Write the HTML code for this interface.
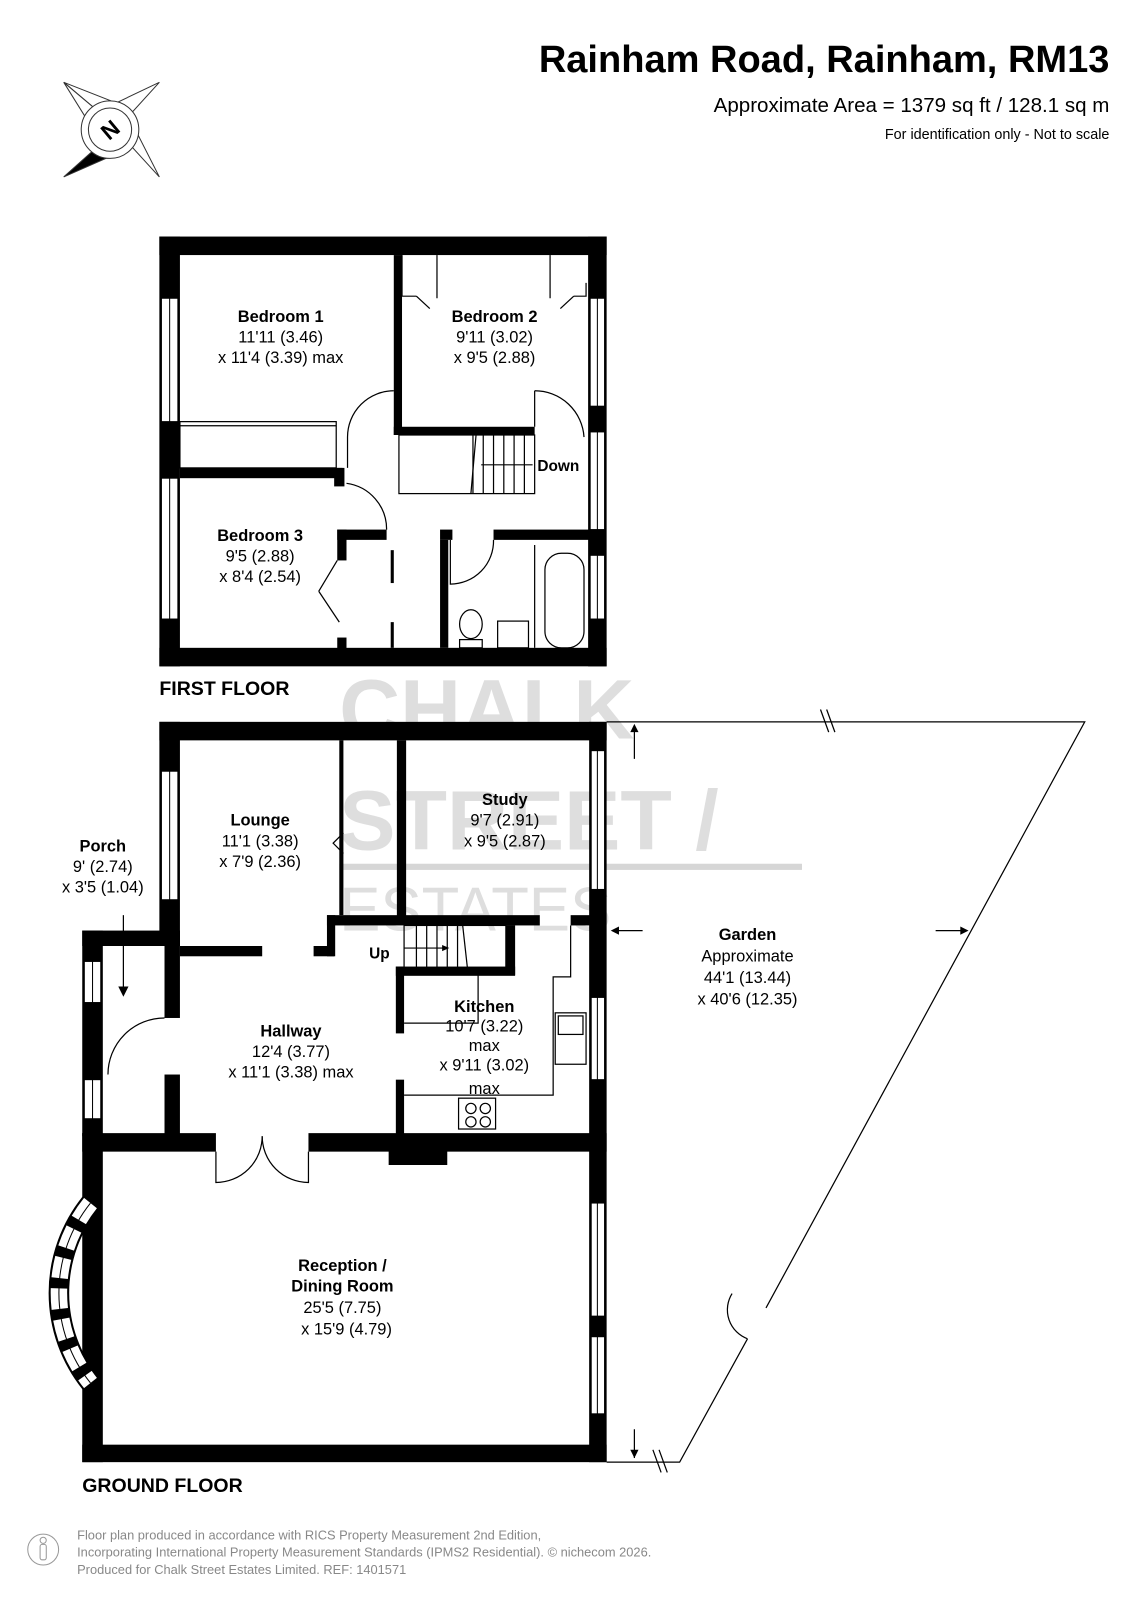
<!DOCTYPE html>
<html><head><meta charset="utf-8"><style>
html,body{margin:0;padding:0;background:#fff;}
svg{display:block;}
text{font-family:"Liberation Sans",Arial,sans-serif;}
</style></head><body>
<svg width="1131" height="1600" viewBox="0 0 1100 1556" xmlns="http://www.w3.org/2000/svg">
<rect width="1100" height="1556" fill="#fff"/>
<!-- header -->
<text x="1079" y="70" font-size="37" font-weight="bold" text-anchor="end">Rainham Road, Rainham, RM13</text>
<text x="1079" y="109" font-size="20" text-anchor="end">Approximate Area = 1379 sq ft / 128.1 sq m</text>
<text x="1079" y="135" font-size="14" text-anchor="end">For identification only - Not to scale</text>
<!-- compass -->
<g stroke="#333" stroke-width="1" fill="#fff">
<polygon points="62,80 100,112 113,100"/>
<polygon points="155,80 113,100 125,113"/>
<polygon points="155,172 125,113 112,125"/>
<polygon points="62,172 100,138 112,150" fill="#000"/>
<polygon points="62,80 90,125 100,112" fill="#fff"/>
<circle cx="107" cy="126" r="28"/>
<circle cx="107" cy="126" r="21"/>
</g>
<text x="107" y="134" font-size="22" font-weight="bold" text-anchor="middle" transform="rotate(-40 107 126)">N</text>

<!-- watermark -->
<g fill="#d6d6d6">
<text x="330" y="718" font-size="82" font-weight="bold" fill-opacity="0.8">CHALK</text>
<text x="330" y="826" font-size="82" font-weight="bold" fill-opacity="0.8">STREET /</text>
<rect x="330" y="840" width="450" height="6"/>
<text x="330" y="905" font-size="60" fill-opacity="0.8">ESTATES</text>
</g>

<!-- FIRST FLOOR -->
<g fill="#000">
<rect x="155" y="230" width="435" height="18"/>
<rect x="155" y="630" width="435" height="18"/>
<rect x="155" y="230" width="20" height="418"/>
<rect x="572" y="230" width="18" height="418"/>
</g>
<g fill="#fff" stroke="#000" stroke-width="1">
<rect x="157" y="290" width="16" height="120"/><line x1="165" y1="290" x2="165" y2="410"/>
<rect x="157" y="465" width="16" height="137"/><line x1="165" y1="465" x2="165" y2="602"/>
<rect x="574" y="290" width="14" height="105"/><line x1="581" y1="290" x2="581" y2="395"/>
<rect x="574" y="420" width="14" height="95"/><line x1="581" y1="420" x2="581" y2="515"/>
<rect x="574" y="540" width="14" height="62"/><line x1="581" y1="540" x2="581" y2="602"/>
</g>
<g fill="#000">
<rect x="383" y="248" width="8" height="175"/>
<rect x="383" y="415" width="137" height="8"/>
<rect x="175" y="455" width="158" height="10"/>
<rect x="325" y="455" width="10" height="18"/>
<rect x="328" y="515" width="48" height="10"/>
<rect x="328" y="515" width="9" height="30"/>
<rect x="328" y="620" width="9" height="12"/>
<rect x="428" y="525" width="8" height="105"/>
<rect x="480" y="515" width="95" height="10"/>
<rect x="428" y="515" width="12" height="10"/>
<rect x="380" y="535" width="3" height="32"/><rect x="380" y="605" width="3" height="25"/>
</g>
<g fill="none" stroke="#000" stroke-width="1.2">
<rect x="175" y="410" width="152" height="45"/>
<line x1="175" y1="414" x2="327" y2="414"/>
<path d="M383 380 A45 45 0 0 0 338 425 L338 455"/>
<path d="M520 380 A48 48 0 0 1 568 425"/>
<line x1="520" y1="380" x2="520" y2="415"/>
<path d="M337 470 A45 45 0 0 1 376 515"/>
<path d="M480 525 A42 42 0 0 1 438 568 L438 525"/>
<polyline points="391,248 391,288 405,288"/>
<line x1="425" y1="248" x2="425" y2="290"/>
<line x1="405" y1="288" x2="418" y2="300"/>
<line x1="535" y1="248" x2="535" y2="290"/>
<polyline points="570,275 570,288 558,288"/>
<line x1="558" y1="288" x2="545" y2="300"/>
<rect x="388" y="423" width="132" height="57"/>
<line x1="460" y1="423" x2="460" y2="480"/>
<line x1="470" y1="423" x2="470" y2="480"/>
<line x1="480" y1="423" x2="480" y2="480"/>
<line x1="490" y1="423" x2="490" y2="480"/>
<line x1="500" y1="423" x2="500" y2="480"/>
<line x1="510" y1="423" x2="510" y2="480"/>
<line x1="463" y1="423" x2="458" y2="480"/>
<line x1="468" y1="452" x2="518" y2="452"/>
<line x1="328" y1="545" x2="310" y2="575"/><line x1="310" y1="575" x2="330" y2="605"/>
<rect x="530" y="538" width="38" height="92" rx="16"/>
<ellipse cx="458" cy="607" rx="11" ry="14"/>
<rect x="447" y="622" width="22" height="8"/>
<rect x="484" y="604" width="30" height="26"/>
<line x1="520" y1="530" x2="520" y2="630"/>
</g>
<text x="273" y="313" font-size="16" font-weight="bold" text-anchor="middle">Bedroom 1</text>
<text x="273" y="333" font-size="16" text-anchor="middle">11'11 (3.46)</text>
<text x="273" y="353" font-size="16" text-anchor="middle">x 11'4 (3.39) max</text>
<text x="481" y="313" font-size="16" font-weight="bold" text-anchor="middle">Bedroom 2</text>
<text x="481" y="333" font-size="16" text-anchor="middle">9'11 (3.02)</text>
<text x="481" y="353" font-size="16" text-anchor="middle">x 9'5 (2.88)</text>
<text x="543" y="458" font-size="15" font-weight="bold" text-anchor="middle">Down</text>
<text x="253" y="526" font-size="16" font-weight="bold" text-anchor="middle">Bedroom 3</text>
<text x="253" y="546" font-size="16" text-anchor="middle">9'5 (2.88)</text>
<text x="253" y="566" font-size="16" text-anchor="middle">x 8'4 (2.54)</text>
<text x="155" y="676" font-size="19" font-weight="bold">FIRST FLOOR</text>

<!-- GROUND FLOOR -->
<g fill="#000">
<rect x="155" y="702" width="435" height="18"/>
<rect x="155" y="702" width="20" height="218"/>
<rect x="573" y="702" width="17" height="720"/>
<rect x="80" y="1405" width="510" height="17"/>
<rect x="80" y="1102" width="20" height="320"/>
<rect x="80" y="905" width="95" height="15"/>
<rect x="80" y="905" width="20" height="200"/>
<rect x="160" y="905" width="15" height="85"/>
<rect x="160" y="1045" width="15" height="60"/>
<rect x="80" y="1102" width="130" height="18"/>
<rect x="300" y="1102" width="290" height="18"/>
<rect x="378" y="1115" width="57" height="18"/>
<rect x="175" y="920" width="80" height="10"/>
<rect x="305" y="920" width="20" height="10"/>
<rect x="318" y="890" width="8" height="40"/>
<rect x="318" y="890" width="207" height="10"/>
<rect x="386" y="720" width="9" height="175"/>
<rect x="330" y="720" width="4" height="170"/>
<rect x="492" y="900" width="9" height="48"/>
<rect x="385" y="940" width="116" height="9"/>
<rect x="385" y="940" width="8" height="65"/>
<rect x="385" y="1050" width="8" height="55"/>
<rect x="555" y="890" width="20" height="10"/>
</g>
<g fill="#fff" stroke="#000" stroke-width="1">
<rect x="157" y="750" width="16" height="125"/><line x1="165" y1="750" x2="165" y2="875"/>
<rect x="575" y="730" width="13" height="135"/><line x1="581" y1="730" x2="581" y2="865"/>
<rect x="575" y="970" width="13" height="80"/><line x1="581" y1="970" x2="581" y2="1050"/>
<rect x="575" y="1170" width="13" height="110"/><line x1="581" y1="1170" x2="581" y2="1280"/>
<rect x="575" y="1300" width="13" height="75"/><line x1="581" y1="1300" x2="581" y2="1375"/>
<rect x="82" y="935" width="16" height="40"/><line x1="90" y1="935" x2="90" y2="975"/>
<rect x="82" y="1050" width="16" height="38"/><line x1="90" y1="1050" x2="90" y2="1088"/>
</g>
<!-- bay window -->
<path d="M88 1170 A140 140 0 0 0 88 1345" fill="none" stroke="#000" stroke-width="20"/>
<path d="M88 1170 A140 140 0 0 0 88 1345" fill="none" stroke="#fff" stroke-width="16" stroke-dasharray="20 10"/>
<path d="M88 1170 A140 140 0 0 0 88 1345" fill="none" stroke="#000" stroke-width="1"/>
<g fill="none" stroke="#000" stroke-width="1.2">
<path d="M160 990 A55 55 0 0 0 105 1045"/>
<line x1="120" y1="890" x2="120" y2="965"/>
<polygon points="116,960 124,960 120,968" fill="#000"/>
<path d="M210 1120 L210 1150 A45 45 0 0 0 255 1105"/>
<path d="M300 1120 L300 1150 A45 45 0 0 1 255 1105"/>
<polyline points="334,810 324,820 334,830"/>
<rect x="393" y="900" width="99" height="45"/>
<line x1="405" y1="900" x2="405" y2="945"/><line x1="415" y1="900" x2="415" y2="945"/>
<line x1="425" y1="900" x2="425" y2="945"/><line x1="435" y1="900" x2="435" y2="945"/>
<line x1="445" y1="900" x2="445" y2="945"/><line x1="450" y1="900" x2="455" y2="945"/>
<line x1="393" y1="922" x2="435" y2="922"/>
<polyline points="393,995 465,995 465,945"/>
<polyline points="393,1065 538,1065 538,950 555,950 555,900"/>
<rect x="540" y="985" width="30" height="50"/>
<rect x="543" y="988" width="24" height="18"/>
<rect x="446" y="1068" width="36" height="30"/>
<circle cx="458" cy="1078" r="5"/><circle cx="472" cy="1078" r="5"/>
<circle cx="458" cy="1091" r="5"/><circle cx="472" cy="1091" r="5"/>
<polyline points="590,702 1055,702 745,1272"/>
<polyline points="727,1302 661,1422 590,1422"/>
<path d="M727 1302 A30 30 0 0 1 712 1258"/>
<line x1="617" y1="708" x2="617" y2="738"/>
<line x1="617" y1="1390" x2="617" y2="1418"/>
<line x1="598" y1="905" x2="625" y2="905"/>
<line x1="910" y1="905" x2="938" y2="905"/>
<line x1="798" y1="690" x2="806" y2="712"/><line x1="804" y1="690" x2="812" y2="712"/>
<line x1="635" y1="1410" x2="643" y2="1432"/><line x1="641" y1="1410" x2="649" y2="1432"/>
</g>
<g fill="#000">
<polygon points="613,712 621,712 617,704"/>
<polygon points="613,1410 621,1410 617,1418"/>
<polygon points="594,905 602,901 602,909"/>
<polygon points="942,905 934,901 934,909"/>
<polygon points="437,922 430,919 430,925"/>
</g>
<text x="253" y="803" font-size="16" font-weight="bold" text-anchor="middle">Lounge</text>
<text x="253" y="823" font-size="16" text-anchor="middle">11'1 (3.38)</text>
<text x="253" y="843" font-size="16" text-anchor="middle">x 7'9 (2.36)</text>
<text x="491" y="783" font-size="16" font-weight="bold" text-anchor="middle">Study</text>
<text x="491" y="803" font-size="16" text-anchor="middle">9'7 (2.91)</text>
<text x="491" y="823" font-size="16" text-anchor="middle">x 9'5 (2.87)</text>
<text x="100" y="828" font-size="16" font-weight="bold" text-anchor="middle">Porch</text>
<text x="100" y="848" font-size="16" text-anchor="middle">9' (2.74)</text>
<text x="100" y="868" font-size="16" text-anchor="middle">x 3'5 (1.04)</text>
<text x="369" y="932" font-size="15" font-weight="bold" text-anchor="middle">Up</text>
<text x="283" y="1008" font-size="16" font-weight="bold" text-anchor="middle">Hallway</text>
<text x="283" y="1028" font-size="16" text-anchor="middle">12'4 (3.77)</text>
<text x="283" y="1048" font-size="16" text-anchor="middle">x 11'1 (3.38) max</text>
<text x="471" y="984" font-size="16" font-weight="bold" text-anchor="middle">Kitchen</text>
<text x="471" y="1003" font-size="16" text-anchor="middle">10'7 (3.22)</text>
<text x="471" y="1022" font-size="16" text-anchor="middle">max</text>
<text x="471" y="1041" font-size="16" text-anchor="middle">x 9'11 (3.02)</text>
<text x="471" y="1064" font-size="16" text-anchor="middle">max</text>
<text x="727" y="914" font-size="16" font-weight="bold" text-anchor="middle">Garden</text>
<text x="727" y="935" font-size="16" text-anchor="middle">Approximate</text>
<text x="727" y="956" font-size="16" text-anchor="middle">44'1 (13.44)</text>
<text x="727" y="977" font-size="16" text-anchor="middle">x 40'6 (12.35)</text>
<text x="333" y="1236" font-size="16" font-weight="bold" text-anchor="middle">Reception /</text>
<text x="333" y="1256" font-size="16" font-weight="bold" text-anchor="middle">Dining Room</text>
<text x="333" y="1277" font-size="16" text-anchor="middle">25'5 (7.75)</text>
<text x="337" y="1298" font-size="16" text-anchor="middle">x 15'9 (4.79)</text>
<text x="80" y="1451" font-size="19" font-weight="bold">GROUND FLOOR</text>

<!-- footer -->
<g fill="none" stroke="#999" stroke-width="1">
<circle cx="42" cy="1507" r="15"/>
<circle cx="42" cy="1498" r="3"/>
<rect x="39" y="1502" width="6" height="15" rx="2"/>
</g>
<g font-size="12.5" fill="#888">
<text x="75" y="1497">Floor plan produced in accordance with RICS Property Measurement 2nd Edition,</text>
<text x="75" y="1514">Incorporating International Property Measurement Standards (IPMS2 Residential).   © nichecom 2026.</text>
<text x="75" y="1531">Produced for Chalk Street Estates Limited.   REF: 1401571</text>
</g>
</svg>
</body></html>
